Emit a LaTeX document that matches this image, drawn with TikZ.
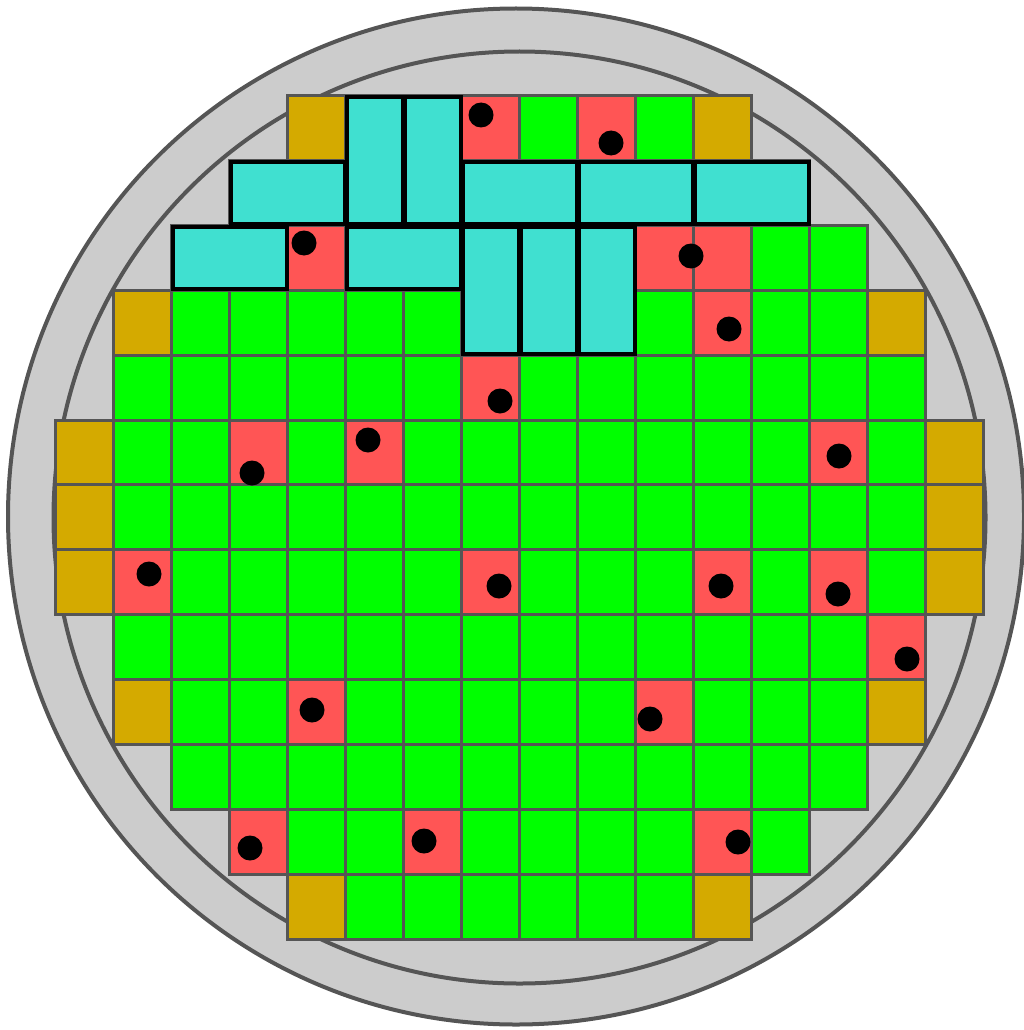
\documentclass[tikz,border=0pt]{standalone}
\usepackage{tikz}
\definecolor{cgreen}{HTML}{00FF00}
\definecolor{cred}{HTML}{FF5555}
\definecolor{cgold}{HTML}{D4AA00}
\definecolor{ccyan}{HTML}{40E0D0}
\definecolor{cgray}{HTML}{CCCCCC}
\definecolor{cline}{HTML}{555555}
\tikzset{
  ring/.style={draw=cline, fill=cgray, line width=4pt},
  cellbox/.style={draw=cline, line width=3pt},
  fuelbox/.style={cellbox, fill=cgreen},
  redbox/.style={cellbox, fill=cred},
  goldbox/.style={cellbox, fill=cgold},
  cyanbox/.style={draw=black, fill=ccyan, line width=4pt},
  dotmark/.style={fill=black}
}
\newcommand{\gx}[1]{55+58*#1}
\newcommand{\gy}[1]{95.5+64.9*#1}
\begin{document}
\begin{tikzpicture}[x=1pt, y=-1pt]
\useasboundingbox (0,0) rectangle (1024,1030);
% vessel rings
\draw[ring] (516,516.5) circle (508);
\draw[ring] (519.5,517.5) circle (466);
% green cells by row span
\foreach \r/\a/\b in {0/4/11,1/3/12,2/2/13,3/1/14,4/1/14,5/0/15,6/0/15,7/0/15,8/1/14,9/1/14,10/2/13,11/3/12,12/4/11}{
  \foreach \c in {\a,...,\b}{
    \draw[fuelbox] ({\gx{\c}},{\gy{\r}}) rectangle ++(58,64.9);
  }
}
% gold cells
\foreach \c/\r in {4/0,11/0,1/3,14/3,0/5,15/5,0/6,15/6,0/7,15/7,1/9,14/9,4/12,11/12}{
  \draw[goldbox] ({\gx{\c}},{\gy{\r}}) rectangle ++(58,64.9);
}
% red cells
\foreach \c/\r in {7/0,9/0,4/2,10/2,11/2,11/3,7/4,3/5,5/5,13/5,1/7,7/7,11/7,13/7,14/8,4/9,10/9,3/11,6/11,11/11}{
  \draw[redbox] ({\gx{\c}},{\gy{\r}}) rectangle ++(58,64.9);
}
% cyan assemblies
\foreach \c/\r/\w/\h in {5/0/1/2,6/0/1/2,3/1/2/1,7/1/2/1,9/1/2/1,11/1/2/1,2/2/2/1,5/2/2/1,7/2/1/2,8/2/1/2,9/2/1/2}{
  \draw[cyanbox] ({\gx{\c}+1.5},{\gy{\r}+2}) rectangle ({\gx{\c}+58*\w},{\gy{\r}+64.9*\h-1});
}
% black markers
\foreach \x/\y in {481/115,611/143,304/243,691/256,729/329,500/401,368/440,252/473,839/456,149/574,499/586,721/586,838/594,907/659,312/710,650/719,250/848,424/841,738/842}{
  \fill[dotmark] (\x,\y) circle (12.5);
}
\end{tikzpicture}
\end{document}
